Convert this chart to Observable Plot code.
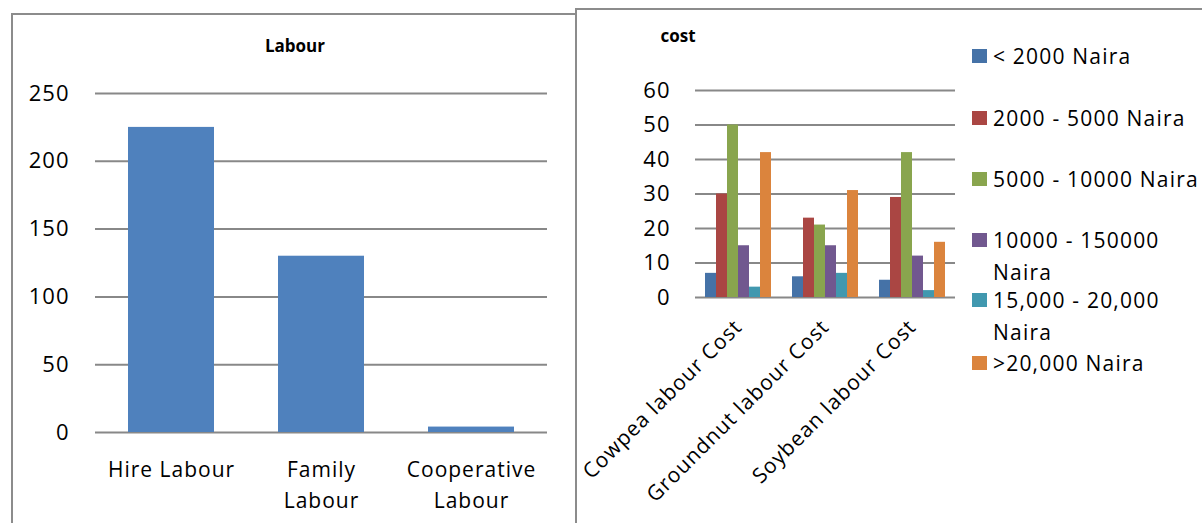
<!DOCTYPE html>
<html>
<head>
<meta charset="utf-8">
<script src="https://cdn.jsdelivr.net/npm/d3@7"></script>
<script src="https://cdn.jsdelivr.net/npm/@observablehq/plot@0.6"></script>
<style>
  html, body { margin: 0; padding: 0; background: #fff; }
  #page { position: relative; width: 1202px; height: 523px; overflow: hidden; font-family: "Open Sans", sans-serif; color: #000; }
  .box { position: absolute; box-sizing: border-box; border: 2px solid #8c8c8c; }
  .abs { position: absolute; }
  .title { position: absolute; font-weight: bold; font-size: 17px; transform: translate(-50%, -50%); white-space: nowrap; }
  .leg { position: absolute; left: 972px; font-size: 21px; letter-spacing: 1.2px; line-height: 32px; }
  .leg .sw { position: absolute; left: 0; top: 9px; width: 15px; height: 14px; }
  .leg .tx { position: absolute; left: 21px; top: 0; white-space: pre; }
</style>
</head>
<body>
<div id="page">
  <div class="box" style="left:11px; top:13px; width:566px; height:600px;"></div>
  <div class="box" style="left:575px; top:8px; width:700px; height:600px;"></div>
  <div id="left" class="abs" style="left:0; top:0;"></div>
  <div id="rightBack" class="abs" style="left:580px; top:0;"></div>
  <div id="right" class="abs" style="left:580px; top:0;"></div>
  <div class="title" style="left:295px; top:45px;">Labour</div>
  <div class="title" style="left:678px; top:35px;">cost</div>
  <div id="legend"></div>
</div>
<script>
// ---- Data ----
const labourCategories = ["Hire Labour", "Family Labour", "Cooperative Labour"];
const labourTickLabels = ["Hire Labour", "Family\nLabour", "Cooperative\nLabour"];
const labourValues = [225, 130, 4];
const labourTicks = [0, 50, 100, 150, 200, 250];

const crops = ["Cowpea labour Cost", "Groundnut labour Cost", "Soybean labour Cost"];
const costBands = ["< 2000 Naira", "2000 - 5000 Naira", "5000 - 10000 Naira", "10000 - 150000 Naira", "15,000 - 20,000 Naira", ">20,000 Naira"];
const legendLabels = ["< 2000 Naira", "2000 - 5000 Naira", "5000 - 10000 Naira", "10000 - 150000\nNaira", "15,000 - 20,000\nNaira", ">20,000 Naira"];
const cowpeaCost = [7, 30, 50, 15, 3, 42];
const groundnutCost = [6, 23, 21, 15, 7, 31];
const soybeanCost = [5, 29, 42, 12, 2, 16];
const costTicks = [0, 10, 20, 30, 40, 50, 60];
const bandColors = ["#4572A7", "#AA4643", "#89A54E", "#71588F", "#4198AF", "#DB843D"];

// ---- Tables ----
const labourData = labourCategories.map((c, i) => ({cat: c, value: labourValues[i]}));
const costSeries = [cowpeaCost, groundnutCost, soybeanCost];
const costData = crops.flatMap((crop, ci) => costBands.map((b, bi) => ({crop, band: b, value: costSeries[ci][bi]})));

const gridColor = "#888888";
const baseStyle = {fontFamily: "'Open Sans', sans-serif", fontSize: "21px", letterSpacing: "1px", color: "#000", background: "transparent", overflow: "visible"};

// ---- Left chart ----
const left = Plot.plot({
  width: 580, height: 523,
  marginLeft: 95, marginRight: 33, marginTop: 93, marginBottom: 91,
  style: baseStyle,
  x: {domain: labourCategories, paddingInner: 0.427, paddingOuter: 0.213, label: null},
  y: {domain: [0, 250], label: null},
  marks: [
    Plot.ruleY(labourTicks, {stroke: gridColor, strokeWidth: 2}),
    Plot.barY(labourData, {x: "cat", y: "value", fill: "#4F81BD"}),
    Plot.axisY(labourTicks, {tickSize: 0, tickPadding: 26, label: null, fontSize: 22}),
    Plot.axisX({tickSize: 0, tickPadding: 22, label: null, fontSize: 21, lineHeight: 1.48,
      tickFormat: d => labourTickLabels[labourCategories.indexOf(d)]})
  ]
});
document.getElementById("left").appendChild(left);

// ---- Right chart: shared frame (grid + y axis) ----
const rightDims = {width: 400, height: 523, marginLeft: 115, marginRight: 25, marginTop: 90, marginBottom: 226};
const rightBack = Plot.plot({
  ...rightDims,
  style: baseStyle,
  y: {domain: [0, 60], label: null},
  marks: [
    Plot.ruleY(costTicks, {stroke: gridColor, strokeWidth: 2}),
    Plot.axisY(costTicks, {tickSize: 0, tickPadding: 25, label: null, fontSize: 22, line: true, stroke: gridColor, strokeWidth: 2})
  ]
});
document.getElementById("rightBack").appendChild(rightBack);

// ---- Right chart: grouped bars ----
const right = Plot.plot({
  ...rightDims,
  style: baseStyle,
  fx: {domain: crops, paddingInner: 0.195, paddingOuter: 0.08, label: null},
  x: {domain: costBands, padding: 0, axis: null},
  y: {domain: [0, 60], label: null, axis: null},
  color: {domain: costBands, range: bandColors},
  marks: [
    Plot.barY(costData, {fx: "crop", x: "band", y: "value", fill: "band"}),
    Plot.axisFx({anchor: "bottom", tickSize: 0, tickPadding: 26, tickRotate: -45, label: null, fontSize: 21})
  ]
});
document.getElementById("right").appendChild(right);

// ---- Legend ----
const legend = document.getElementById("legend");
const legendCenters = [56, 118, 179, 240, 300, 363];
legendLabels.forEach((lab, i) => {
  const d = document.createElement("div");
  d.className = "leg";
  d.style.top = (legendCenters[i] - 16) + "px";
  d.innerHTML = `<div class="sw" style="background:${bandColors[i]}"></div><div class="tx"></div>`;
  d.querySelector(".tx").textContent = lab;
  legend.appendChild(d);
});
</script>
</body>
</html>
